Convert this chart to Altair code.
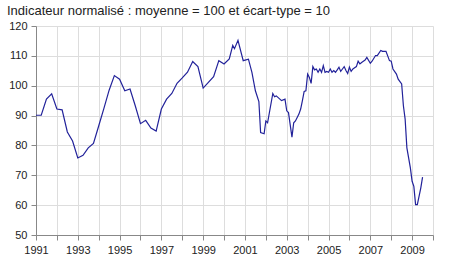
import altair as alt
import pandas as pd

title_text = "Indicateur normalisé : moyenne = 100 et écart-type = 10"

dates = [
    "1991-01", "1991-04", "1991-07", "1991-10", "1992-01", "1992-04", "1992-07", "1992-10",
    "1993-01", "1993-04", "1993-07", "1993-10", "1994-01", "1994-04", "1994-07", "1994-10",
    "1995-01", "1995-04", "1995-07", "1995-10", "1996-01", "1996-04", "1996-07", "1996-10",
    "1997-01", "1997-04", "1997-07", "1997-10", "1998-01", "1998-04", "1998-07", "1998-10",
    "1999-01", "1999-04", "1999-07", "1999-10", "2000-01", "2000-04", "2000-06", "2000-07",
    "2000-09", "2000-12", "2001-03", "2001-05", "2001-07", "2001-09", "2001-10", "2001-12",
    "2002-01", "2002-02", "2002-05", "2002-06", "2002-07", "2002-10", "2002-12", "2003-01",
    "2003-02", "2003-04", "2003-05", "2003-06", "2003-08", "2003-09", "2003-10", "2003-11",
    "2003-12", "2004-01", "2004-02", "2004-03", "2004-04", "2004-05", "2004-06", "2004-07",
    "2004-08", "2004-09", "2004-10", "2004-11", "2004-12", "2005-01", "2005-02", "2005-03",
    "2005-04", "2005-05", "2005-06", "2005-07", "2005-08", "2005-09", "2005-10", "2005-11",
    "2005-12", "2006-01", "2006-02", "2006-03", "2006-04", "2006-05", "2006-06", "2006-07",
    "2006-08", "2006-09", "2006-10", "2006-11", "2007-01", "2007-02", "2007-04", "2007-05",
    "2007-07", "2007-08", "2007-09", "2007-10", "2007-12", "2008-01", "2008-02", "2008-04",
    "2008-05", "2008-07", "2008-08", "2008-09", "2008-10", "2008-12", "2009-01", "2009-02",
    "2009-03", "2009-04", "2009-06", "2009-07",
]

values = [
    90.1, 90.1, 95.5, 97.3, 92.2, 91.9, 84.5, 81.5,
    75.8, 76.7, 79.2, 80.7, 86.5, 92.4, 98.5, 103.4,
    102.2, 98.3, 98.9, 93.3, 87.3, 88.4, 85.8, 84.8,
    92.2, 95.5, 97.4, 100.8, 102.6, 104.5, 108.1, 106.4,
    99.2, 101.1, 103.0, 108.4, 107.3, 109.0, 113.5, 112.4,
    115.2, 108.4, 108.9, 104.5, 98.3, 94.7, 84.3, 83.9,
    88.2, 87.6, 97.4, 96.3, 96.6, 95.0, 95.5, 91.6,
    91.0, 82.8, 87.6, 88.2, 90.5, 92.2, 95.0, 98.1,
    98.3, 103.9, 102.8, 100.8, 106.4, 105.3, 105.6, 104.5,
    105.6, 104.5, 106.7, 104.5, 104.8, 104.5, 105.6, 104.5,
    105.1, 104.5, 105.3, 106.2, 104.8, 105.6, 106.4, 105.1,
    104.1, 106.2, 104.8, 105.6, 106.0, 106.4, 108.2, 107.3,
    107.8, 108.2, 108.6, 109.5, 107.5, 108.2, 110.1, 110.1,
    111.8, 111.5, 111.5, 111.5, 108.4, 108.2, 105.6, 103.9,
    102.2, 100.6, 93.3, 88.8, 79.2, 72.5, 68.0, 66.3,
    60.2, 60.2, 65.8, 69.4,
]

year_ticks = list(range(1991, 2011))
y_ticks = [50, 60, 70, 80, 90, 100, 110, 120]

df = pd.DataFrame({"date": dates, "value": values})
df["t"] = df["date"].apply(lambda s: int(s[:4]) + (int(s[5:7]) - 1) / 12)

chart = (
    alt.Chart(df)
    .mark_line(color="#22229a", strokeWidth=1.2)
    .encode(
        x=alt.X(
            "t:Q",
            scale=alt.Scale(domain=[1991, 2010], nice=False, zero=False),
            axis=alt.Axis(
                values=year_ticks,
                format="d",
                labelExpr="datum.value % 2 == 1 && datum.value < 2010 ? datum.label : ''",
                title=None,
                grid=True,
                labelPadding=4,
                labelFlush=False,
                labelOverlap=False,
            ),
        ),
        y=alt.Y(
            "value:Q",
            scale=alt.Scale(domain=[50, 120], nice=False, zero=False),
            axis=alt.Axis(values=y_ticks, title=None, grid=True, labelPadding=4,
                          labelFlush=False),
        ),
    )
    .properties(
        width=397,
        height=209,
        autosize=alt.AutoSizeParams(type="none"),
        padding={"left": 36, "top": 26, "right": 17, "bottom": 45},
        title=alt.TitleParams(
            text=title_text,
            anchor="start",
            frame="group",
            dx=-29,
            offset=2,
            fontSize=13,
            font="Liberation Sans",
            fontWeight="normal",
            color="#222222",
        ),
    )
    .configure_view(stroke=None)
    .configure_axis(
        labelFont="Liberation Sans",
        labelFontSize=11,
        labelColor="#222222",
        gridColor="#dddddd",
        gridWidth=1,
        domainColor="#888888",
        tickColor="#888888",
        tickSize=5,
        labelAngle=0,
    )
)

chart.save("out.html", embed_options={"renderer": "svg", "actions": False})
